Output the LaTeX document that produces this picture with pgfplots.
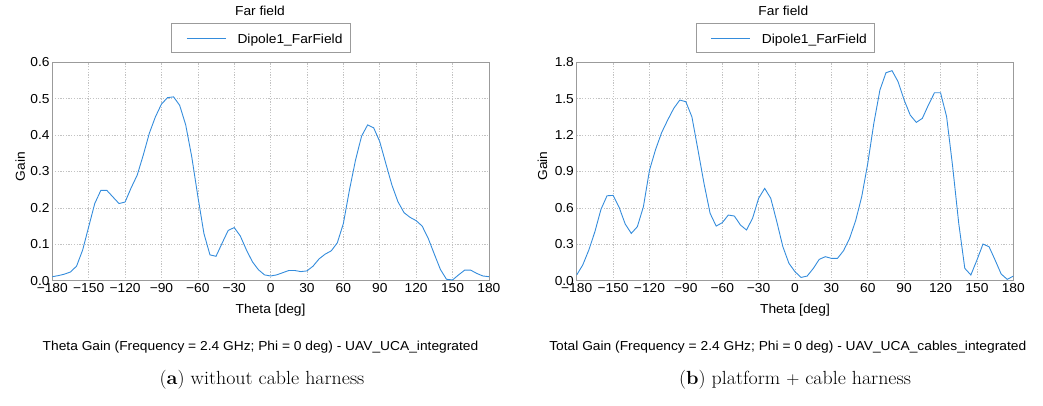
\documentclass[border=0pt]{standalone}
\usepackage{pgfplots}
\pgfplotsset{compat=1.18}
\usepackage{pgfplotstable}
\usepackage{graphicx}
\usepackage{fontspec}
\newfontfamily\arial[FakeStretch=1.06]{Liberation Sans}
\definecolor{curve}{RGB}{52,140,220}
\definecolor{framec}{RGB}{155,155,155}
\definecolor{gridc}{RGB}{195,195,195}

\pgfplotstableread{
theta gain
-180 0.011
-175 0.014
-170 0.018
-165 0.024
-160 0.040
-155 0.084
-150 0.148
-145 0.212
-140 0.248
-135 0.248
-130 0.230
-125 0.212
-120 0.216
-115 0.255
-110 0.290
-105 0.345
-100 0.405
-95 0.450
-90 0.485
-85 0.503
-80 0.505
-75 0.482
-70 0.428
-65 0.340
-60 0.232
-55 0.130
-50 0.071
-45 0.067
-40 0.103
-35 0.138
-30 0.146
-25 0.123
-20 0.085
-15 0.052
-10 0.030
-5 0.016
0 0.013
5 0.016
10 0.022
15 0.028
20 0.028
25 0.025
30 0.027
35 0.040
40 0.060
45 0.073
50 0.082
55 0.104
60 0.157
65 0.249
70 0.331
75 0.397
80 0.428
85 0.420
90 0.382
95 0.322
100 0.263
105 0.217
110 0.187
115 0.174
120 0.165
125 0.150
130 0.116
135 0.073
140 0.031
145 0.004
150 0.002
155 0.016
160 0.029
165 0.029
170 0.020
175 0.013
180 0.011
}\thetagain

\pgfplotstableread{
theta gain
-180 0.047
-175 0.130
-170 0.253
-165 0.404
-160 0.588
-155 0.700
-150 0.703
-145 0.604
-140 0.467
-135 0.390
-130 0.445
-125 0.610
-120 0.910
-115 1.080
-110 1.220
-105 1.324
-100 1.420
-95 1.489
-90 1.475
-85 1.350
-80 1.077
-75 0.800
-70 0.555
-65 0.450
-60 0.478
-55 0.541
-50 0.533
-45 0.459
-40 0.418
-35 0.514
-30 0.679
-25 0.761
-20 0.679
-15 0.486
-10 0.280
-5 0.143
0 0.074
5 0.027
10 0.038
15 0.100
20 0.176
25 0.198
30 0.184
35 0.184
40 0.247
45 0.349
50 0.495
55 0.692
60 0.967
65 1.297
70 1.571
75 1.714
80 1.731
85 1.640
90 1.489
95 1.365
100 1.305
105 1.338
110 1.448
115 1.549
120 1.549
125 1.352
130 0.940
135 0.473
140 0.102
145 0.047
150 0.170
155 0.302
160 0.280
165 0.170
170 0.055
175 0.011
180 0.038
}\totalgain

\newcommand{\cf}{\arial\fontsize{13}{15}\selectfont}

\pgfplotsset{farfield/.style={
  scale only axis, width=436.6pt, height=218.4pt,
  xmin=-180, xmax=180, ymin=0,
  axis line style={framec, line width=0.8pt},
  xtick={-180,-150,...,180},
  xticklabels={−180,−150,−120,−90,−60,−30,0,30,60,90,120,150,180},
  grid=major,
  major grid style={gridc, line width=0.6pt, dash pattern=on 1.2pt off 1.5pt},
  major tick length=0pt,
  tick style={draw=none},
  ticklabel style={font=\cf},
  xticklabel style={inner sep=0pt, anchor=north, yshift=-2.4pt},
  yticklabel style={inner sep=0pt, anchor=east, xshift=-2.6pt},
  label style={font=\cf},
  xlabel={Theta [deg]},
  ylabel={Gain},
  xlabel style={at={(axis description cs:0.5,0)}, anchor=base, yshift=-32.6pt},
  legend cell align=left,
  legend image code/.code={\path (0pt,0pt) (57.3pt,0pt); \draw[##1] (7.1pt,-0.5pt) -- (45.8pt,-0.5pt);},
  legend style={at={(axis description cs:0.2726,1.1786)}, anchor=north west,
    draw=framec, fill=white, line width=0.8pt, inner xsep=7.6pt, inner ysep=0pt,
    font=\cf, nodes={inner sep=0pt, text height=19.5pt, text depth=9.5pt}},
}}

\begin{document}
\begin{tikzpicture}
\path[use as bounding box] (0pt,0pt) rectangle (1043pt,405pt);

\begin{axis}[farfield, at={(52.3pt,124.3pt)}, anchor=south west,
  ymax=0.6, ytick={0,0.1,...,0.6},
  yticklabels={0.0,0.1,0.2,0.3,0.4,0.5,0.6},
  ylabel style={at={(axis description cs:0,0.522)}, anchor=base, yshift=27.3pt}]
\addplot[curve, line width=0.9pt] table[x=theta, y=gain] {\thetagain};
\addlegendentry{Dipole1\_FarField}
\end{axis}

\begin{axis}[farfield, at={(576.7pt,124.3pt)}, anchor=south west,
  ymax=1.8, ytick={0,0.3,...,1.8},
  yticklabels={0.0,0.3,0.6,0.9,1.2,1.5,1.8},
  ylabel style={at={(axis description cs:0,0.525)}, anchor=base, yshift=29.7pt}]
\addplot[curve, line width=0.9pt] table[x=theta, y=gain] {\totalgain};
\addlegendentry{Dipole1\_FarField}
\end{axis}

\node[font=\cf, anchor=base] at (260pt,389pt) {Far field};
\node[font=\cf, anchor=base] at (783.3pt,389pt) {Far field};

\node[font=\cf, anchor=base] at (260.5pt,55pt) {Theta Gain (Frequency = 2.4 GHz; Phi = 0 deg) - UAV\_UCA\_integrated};
\node[font=\cf, anchor=base] at (787.8pt,55pt) {Total Gain (Frequency = 2.4 GHz; Phi = 0 deg) - UAV\_UCA\_cables\_integrated};

\node[anchor=base] at (262pt,21pt) {\scalebox{1.05}[1]{\fontsize{19}{22}\selectfont(\textbf{a}) without cable harness}};
\node[anchor=base] at (795pt,21pt) {\scalebox{1.05}[1]{\fontsize{19}{22}\selectfont(\textbf{b}) platform $+$ cable harness}};
\end{tikzpicture}
\end{document}
